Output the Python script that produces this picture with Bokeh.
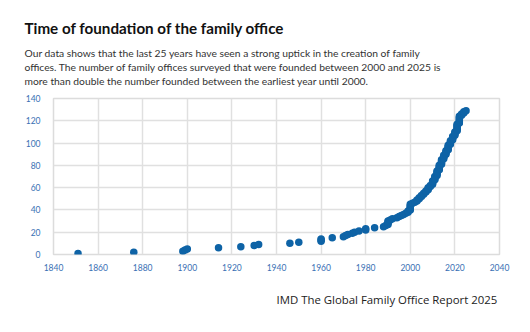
from bokeh.plotting import figure
from bokeh.layouts import column
from bokeh.models import Label, SingleIntervalTicker, ColumnDataSource
from bokeh.embed import file_html
from bokeh.resources import INLINE

# ---- data ----
founding_year = [
    1851, 1876, 1898, 1899, 1900, 1914, 1924, 1930, 1932, 1946, 1950, 1960, 1960, 1960, 1965,
    1970, 1971, 1972, 1974, 1975, 1977, 1980, 1980, 1984, 1988, 1989,
    1990, 1990, 1990, 1990, 1991, 1992, 1994, 1995, 1996, 1997, 1998, 1999, 1999,
    2000, 2000, 2000, 2000, 2000, 2000, 2001, 2002, 2003, 2003, 2004, 2004, 2005, 2005,
    2006, 2006, 2007, 2007, 2008, 2008, 2008, 2009, 2009,
    2010, 2010, 2010, 2010, 2011, 2011, 2011, 2011, 2012, 2012, 2012, 2012, 2012,
    2013, 2013, 2013, 2013, 2013, 2014, 2014, 2014, 2014, 2014,
    2015, 2015, 2015, 2015, 2016, 2016, 2016, 2016, 2017, 2017, 2017, 2017, 2017,
    2018, 2018, 2018, 2018, 2019, 2019, 2019, 2019, 2020, 2020, 2020, 2020,
    2021, 2021, 2021, 2021, 2021, 2021, 2021, 2022, 2022, 2022, 2022, 2022, 2022, 2022,
    2023, 2023, 2024, 2024, 2025,
]
office_count = [
    1, 2, 3, 4, 5, 6, 7, 8, 9, 10, 11, 12, 13, 14, 15,
    16, 17, 18, 19, 20, 21, 22, 23, 24, 25, 26,
    27, 28, 29, 30, 31, 32, 33, 34, 35, 36, 37, 38, 39,
    40, 41, 42, 43, 44, 45, 46, 47, 48, 49, 50, 51, 52, 53,
    54, 55, 56, 57, 58, 59, 60, 61, 62,
    63, 64, 65, 66, 67, 68, 69, 70, 71, 72, 73, 74, 75,
    76, 77, 78, 79, 80, 81, 82, 83, 84, 85,
    86, 87, 88, 89, 90, 91, 92, 93, 94, 95, 96, 97, 98,
    99, 100, 101, 102, 103, 104, 105, 106, 107, 108, 109, 110,
    111, 112, 113, 114, 115, 116, 117, 118, 119, 120, 121, 122, 123, 124,
    125, 126, 127, 128, 129,
]
title_text = "Time of foundation of the family office"
subtitle_lines = [
    "Our data shows that the last 25 years have seen a strong uptick in the creation of family",
    "offices. The number of family offices surveyed that were founded between 2000 and 2025 is",
    "more than double the number founded between the earliest year until 2000.",
]
source_text = "IMD The Global Family Office Report 2025"

W = 530
HEAD_H, MAIN_H, FOOT_H = 90, 186, 56


def text_panel(h):
    f = figure(width=W, height=h, x_range=(0, W), y_range=(h, 0),
               output_backend="svg", toolbar_location=None,
               min_border=0, x_axis_type=None, y_axis_type=None,
               frame_align=False)
    f.grid.visible = False
    f.outline_line_color = None
    f.background_fill_color = "white"
    f.border_fill_color = "white"
    return f


# ---- header ----
head = text_panel(HEAD_H)
head.add_layout(Label(x=24, y=18, text=title_text, text_font="Lato",
                      text_font_style="bold", text_font_size="15.2px", text_color="#111111",
                      text_baseline="top", text_align="left"))
for i, line in enumerate(subtitle_lines):
    head.add_layout(Label(x=24, y=46 + 14 * i, text=line, text_font="Lato",
                          text_font_size="10.3px", text_color="#333333",
                          text_baseline="top", text_align="left"))

# ---- main chart ----
p = figure(width=W, height=MAIN_H, x_range=(1840, 2040), y_range=(0, 140),
           output_backend="svg", toolbar_location=None,
           min_border_left=53, min_border_right=31,
           min_border_top=8, min_border_bottom=22, frame_align=False)
p.background_fill_color = "white"
p.border_fill_color = "white"
p.outline_line_color = "#dcdcdc"
p.outline_line_width = 1.5

p.xaxis.ticker = SingleIntervalTicker(interval=20)
p.yaxis.ticker = SingleIntervalTicker(interval=20)
for ax in (p.xaxis[0], p.yaxis[0]):
    ax.axis_line_color = None
    ax.major_tick_line_color = None
    ax.minor_tick_line_color = None
    ax.major_label_text_color = "#3a70b4"
    ax.major_label_text_font = "Lato"
    ax.major_label_text_font_size = "8.5px"
p.yaxis.major_label_standoff = 7
p.xaxis.major_label_standoff = 3
p.xgrid.grid_line_color = "#e0e0e0"
p.ygrid.grid_line_color = "#e0e0e0"
p.xgrid.grid_line_width = 1.5
p.ygrid.grid_line_width = 1.5

src = ColumnDataSource(dict(x=founding_year, y=office_count))
p.scatter("x", "y", source=src, size=7.5, fill_color="#0e63a6", line_color=None)

# ---- footer ----
foot = text_panel(FOOT_H)
foot.add_layout(Label(x=276, y=15, text=source_text, text_font="Open Sans",
                      text_font_size="11.4px", text_color="#222222",
                      text_baseline="top", text_align="left"))

layout = column(head, p, foot, spacing=0)
open("out.html", "w").write(file_html(layout, INLINE))
